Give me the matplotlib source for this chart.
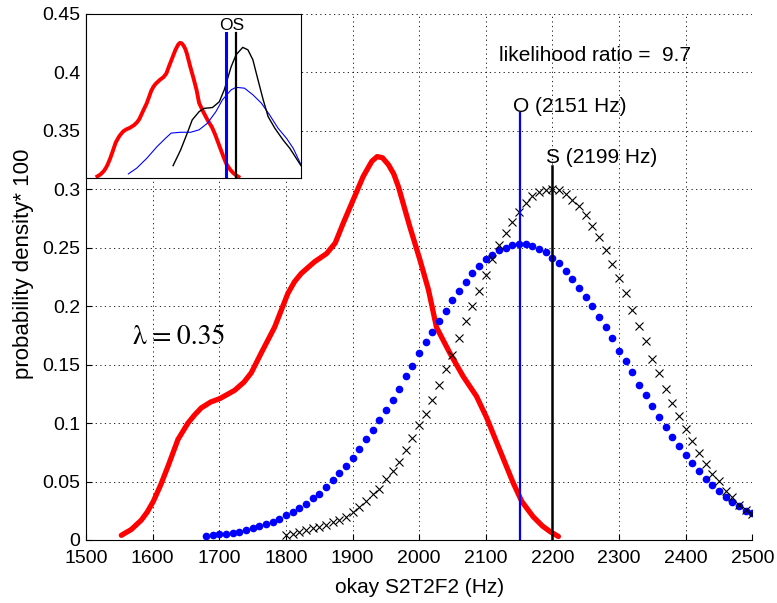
import numpy as np
import matplotlib.pyplot as plt

# red curve - thick line
red_hz = [1553, 1568, 1583, 1592, 1601, 1612, 1623, 1638, 1653, 1663, 1673, 1687,
          1701, 1723, 1737, 1748, 1763, 1783, 1803, 1813, 1823, 1843, 1861, 1874,
          1886, 1901, 1916, 1929, 1937, 1945, 1954, 1962, 1969, 1986, 2001, 2014,
          2026, 2046, 2066, 2086, 2101, 2121, 2141, 2154, 2171, 2185, 2197, 2209]
red_dens = [0.004, 0.009, 0.017, 0.024, 0.033, 0.047, 0.063, 0.086, 0.100, 0.107, 0.113, 0.118,
            0.121, 0.128, 0.135, 0.143, 0.160, 0.182, 0.211, 0.221, 0.228, 0.238, 0.245, 0.254,
            0.271, 0.291, 0.311, 0.324, 0.328, 0.327, 0.321, 0.313, 0.302, 0.268, 0.240, 0.214,
            0.182, 0.160, 0.140, 0.123, 0.105, 0.077, 0.049, 0.033, 0.020, 0.012, 0.007, 0.003]

# blue dots, every 10 Hz from 1680 to 2500
blue_hz = list(range(1680, 2501, 10))
blue_dens = [0.003, 0.004, 0.005, 0.0055, 0.006, 0.007, 0.0085, 0.010, 0.012, 0.0135,
             0.0155, 0.018, 0.021, 0.024, 0.027, 0.031, 0.036, 0.039, 0.045, 0.051,
             0.057, 0.063, 0.070, 0.078, 0.086, 0.094, 0.103, 0.111, 0.120, 0.129,
             0.140, 0.149, 0.160, 0.169, 0.178, 0.187, 0.196, 0.205, 0.213, 0.221,
             0.228, 0.234, 0.240, 0.244, 0.248, 0.250, 0.252, 0.253, 0.253, 0.2515,
             0.249, 0.246, 0.241, 0.237, 0.230, 0.2235, 0.216, 0.208, 0.200, 0.191,
             0.182, 0.1725, 0.162, 0.153, 0.1435, 0.133, 0.124, 0.1146, 0.1055, 0.0964,
             0.0884, 0.0804, 0.0727, 0.0661, 0.0593, 0.0524, 0.0473, 0.0422, 0.037, 0.0328,
             0.029, 0.025, 0.0228]

# black crosses, every 10 Hz from 1800 to 2500
black_hz = list(range(1800, 2501, 10))
black_dens = [0.004, 0.005, 0.0065, 0.0085, 0.010, 0.0114, 0.013, 0.015, 0.017, 0.020,
              0.024, 0.028, 0.033, 0.039, 0.044, 0.052, 0.059, 0.067, 0.077, 0.087,
              0.098, 0.108, 0.120, 0.133, 0.146, 0.158, 0.173, 0.187, 0.200, 0.213,
              0.227, 0.240, 0.252, 0.263, 0.272, 0.281, 0.288, 0.294, 0.2974, 0.299,
              0.300, 0.2994, 0.296, 0.291, 0.286, 0.278, 0.2686, 0.2594, 0.248, 0.236,
              0.224, 0.211, 0.197, 0.183, 0.170, 0.155, 0.143, 0.129, 0.1175, 0.106,
              0.095, 0.085, 0.074, 0.065, 0.0565, 0.0505, 0.042, 0.0365, 0.030, 0.026,
              0.022]

# inset curves
ins_blue_hz = [1697, 1736, 1783, 1830, 1869, 1896, 1940, 1987, 2026, 2065, 2104, 2135,
               2175, 2198, 2237, 2276, 2315, 2354, 2393, 2433, 2464, 2500]
ins_blue_dens = [0.010, 0.024, 0.048, 0.076, 0.096, 0.109, 0.111, 0.111, 0.117, 0.133, 0.161, 0.190,
                 0.214, 0.220, 0.218, 0.202, 0.182, 0.153, 0.121, 0.096, 0.072, 0.032]
ins_black_hz = [1905, 1940, 1971, 1994, 2026, 2049, 2088, 2120, 2143, 2175, 2198, 2229,
                2253, 2276, 2300, 2324, 2347, 2378, 2417, 2448, 2500]
ins_black_dens = [0.030, 0.068, 0.109, 0.141, 0.161, 0.169, 0.171, 0.185, 0.214, 0.270, 0.299, 0.317,
                  0.311, 0.287, 0.238, 0.190, 0.149, 0.121, 0.092, 0.072, 0.030]

o_freq = 2151
s_freq = 2199
xticks = list(range(1500, 2501, 100))
yticks = [0, 0.05, 0.1, 0.15, 0.2, 0.25, 0.3, 0.35, 0.4, 0.45]
ytick_labels = ['0', '0.05', '0.1', '0.15', '0.2', '0.25', '0.3', '0.35', '0.4', '0.45']

plt.rcParams['font.family'] = ['Liberation Sans', 'DejaVu Sans']

fig = plt.figure(figsize=(7.77, 6.03), dpi=100)
ax = fig.add_axes([0.1107, 0.1045, 0.8575, 0.8723])

ax.plot(red_hz, red_dens, color='red', lw=3.8, solid_capstyle='round',
        solid_joinstyle='round', zorder=3)
ax.plot(blue_hz, blue_dens, 'o', color='blue', ms=4.5, mec='blue', zorder=3)
ax.plot(black_hz, black_dens, 'x', color='black', ms=5.5, mew=0.8, zorder=3)

ax.plot([o_freq, o_freq], [0, 0.365], color='blue', lw=1.6, zorder=4)
ax.plot([s_freq, s_freq], [0, 0.320], color='black', lw=1.8, zorder=4)
ax.text(2141, 0.366, 'O (2151 Hz)', fontsize=15, va='baseline', ha='left')
ax.text(2191, 0.3227, 'S (2199 Hz)', fontsize=15, va='baseline', ha='left')
ax.text(2120, 0.410, 'likelihood ratio =  9.7', fontsize=15, va='baseline', ha='left')
ax.text(1571, 0.173, 'λ\u2009=\u20090.35', fontsize=20, va='center', ha='left',
        family=['STIXGeneral', 'Liberation Serif', 'DejaVu Serif'])

ax.set_xlim(1500, 2500)
ax.set_ylim(0, 0.45)
ax.set_xticks(xticks)
ax.set_yticks(yticks)
ax.set_yticklabels(ytick_labels)
ax.tick_params(direction='in', length=4, width=0.8, labelsize=14)
ax.tick_params(axis='x', pad=7)
ax.tick_params(axis='y', pad=4)
ax.grid(True, color='black', linestyle=(0, (1.5, 4)), lw=0.6)
ax.spines['top'].set_visible(False)
ax.spines['right'].set_visible(False)
ax.set_xlabel('okay S2T2F2 (Hz)', fontsize=15, labelpad=8)
ax.set_ylabel('probability density* 100', fontsize=16)
ax.yaxis.set_label_coords(-0.078, 0.525)

# inset
ins = fig.add_axes([0.1107, 0.7048, 0.2767, 0.2720])
ins.plot(red_hz, red_dens, color='red', lw=2.8, solid_joinstyle='round')
ins.plot(ins_blue_hz, ins_blue_dens, color='blue', lw=0.8)
ins.plot(ins_black_hz, ins_black_dens, color='black', lw=1.0)
ins.plot([o_freq, o_freq], [0, 0.352], color='blue', lw=2.2)
ins.plot([s_freq, s_freq], [0, 0.352], color='black', lw=1.6)
ins.text(2179, 0.36, 'OS', fontsize=12.5, ha='center', va='baseline')
ins.set_xlim(1500, 2500)
ins.set_ylim(0, 0.398)
ins.set_xticks([])
ins.set_yticks([])
for sp in ins.spines.values():
    sp.set_linewidth(0.8)

fig.savefig('out.png', dpi=100)
